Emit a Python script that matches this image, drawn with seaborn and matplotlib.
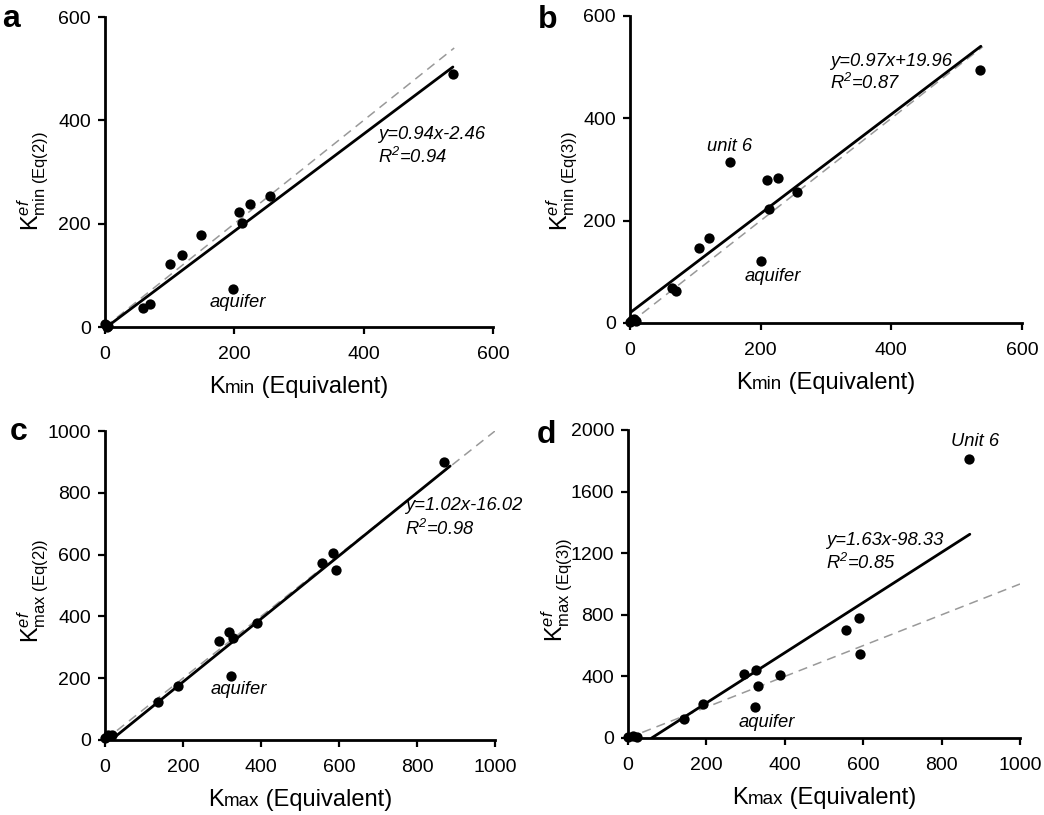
import numpy as np
import pandas as pd
import matplotlib
matplotlib.use("Agg")
import matplotlib.pyplot as plt
import seaborn as sns
from matplotlib.offsetbox import TextArea, HPacker, AnchoredOffsetbox

sns.set_style("ticks")
plt.rcParams['font.family'] = ['Liberation Sans', 'DejaVu Sans']
plt.rcParams['mathtext.fontset'] = 'custom'
plt.rcParams['mathtext.rm'] = 'Liberation Sans'
plt.rcParams['mathtext.it'] = 'Liberation Sans:italic'
plt.rcParams['mathtext.bf'] = 'Liberation Sans:bold'
plt.rcParams['text.color'] = 'black'
plt.rcParams['axes.labelcolor'] = 'black'

# ---------------- data ----------------
a_x = [0, 3, 5, 58, 70, 101, 119, 149, 198, 207, 212, 224, 255, 538]
a_y = [6, 0, 2, 36, 45, 121, 139, 178, 74, 223, 202, 239, 253, 490]

b_x = [0, 3, 6, 9, 64, 71, 106, 121, 153, 200, 209, 213, 226, 255, 535]
b_y = [2, 5, 8, 4, 68, 62, 146, 166, 314, 122, 280, 223, 283, 257, 495]

c_x = [0, 8, 17, 137, 188, 292, 319, 329, 323, 389, 556, 584, 592, 870]
c_y = [5, 16, 16, 122, 175, 320, 350, 331, 207, 380, 574, 606, 550, 900]

d_x = [0, 12, 22, 143, 191, 296, 326, 332, 323, 389, 557, 589, 591, 871]
d_y = [5, 12, 8, 123, 223, 417, 443, 339, 201, 406, 703, 778, 545, 1810]

slopes = [0.94, 0.97, 1.02, 1.63]
intercepts = [-2.46, 19.96, -16.02, -98.33]
r2 = [0.94, 0.87, 0.98, 0.85]
fit_xrange = [(2.6, 538), (0, 537), (15.7, 885), (60.3, 872)]
one_to_one_max = [540, 540, 1000, 1000]

x_ticks = [[0, 200, 400, 600], [0, 200, 400, 600],
           [0, 200, 400, 600, 800, 1000], [0, 200, 400, 600, 800, 1000]]
y_ticks = [[0, 200, 400, 600], [0, 200, 400, 600],
           [0, 200, 400, 600, 800, 1000], [0, 400, 800, 1200, 1600, 2000]]

panel_letters = ['a', 'b', 'c', 'd']
x_sub = ['min', 'min', 'max', 'max']
y_labels = [r'$\mathregular{K}^{\mathit{ef}}_{\mathregular{min\ (Eq(2))}}$',
            r'$\mathregular{K}^{\mathit{ef}}_{\mathregular{min\ (Eq(3))}}$',
            r'$\mathregular{K}^{\mathit{ef}}_{\mathregular{max\ (Eq(2))}}$',
            r'$\mathregular{K}^{\mathit{ef}}_{\mathregular{max\ (Eq(3))}}$']

eq_pos = [(422, 372, 330), (306, 511, 469), (769, 760, 684), (505, 1282, 1135)]
aquifer_pos = [(206, 48), (219, 91), (342, 162), (353, 102)]
unit6 = {1: ('unit 6', 153, 345), 3: ('Unit 6', 885, 1924)}

# ---------------- layout ----------------
W, H = 1044, 815
fig = plt.figure(figsize=(W / 100, H / 100), dpi=100)
boxes = [(105, 493, 17, 327), (630, 1022, 16, 323),
         (105, 495, 431, 740), (628, 1020, 430, 738)]
letter_pos = [(2, 27), (538, 28), (10, 440), (537, 443)]
ylabel_pos = [(33, 181), (562, 181), (33, 591), (557, 590)]

datasets = [(a_x, a_y), (b_x, b_y), (c_x, c_y), (d_x, d_y)]

for i, (bx0, bx1, by0, by1) in enumerate(boxes):
    ax = fig.add_axes([bx0 / W, 1 - by1 / H, (bx1 - bx0) / W, (by1 - by0) / H])
    xs, ys = datasets[i]
    df = pd.DataFrame({'x': xs, 'y': ys})

    # 1:1 dashed line
    d_line = pd.DataFrame({'x': [0, one_to_one_max[i]], 'y': [0, one_to_one_max[i]]})
    sns.lineplot(data=d_line, x='x', y='y', ax=ax, color='#999999', lw=1.1,
                 linestyle=(0, (6, 4)), zorder=2)
    # regression line
    fx = np.array(fit_xrange[i])
    f_line = pd.DataFrame({'x': fx, 'y': slopes[i] * fx + intercepts[i]})
    sns.lineplot(data=f_line, x='x', y='y', ax=ax, color='black', lw=2.0, zorder=3)
    # points
    sns.scatterplot(data=df, x='x', y='y', ax=ax, color='black', s=55,
                    edgecolor='black', linewidth=0, zorder=4, clip_on=False)

    ax.set_xlim(0, x_ticks[i][-1])
    ax.set_ylim(0, y_ticks[i][-1])
    ax.set_xticks(x_ticks[i])
    ax.set_yticks(y_ticks[i])
    ax.tick_params(axis='both', labelsize=14, width=1.6, length=5, direction='out',
                   color='black', labelcolor='black')
    ax.tick_params(axis='x', pad=9)
    ax.tick_params(axis='y', pad=5)
    for side in ['top', 'right']:
        ax.spines[side].set_visible(False)
    for side in ['left', 'bottom']:
        ax.spines[side].set_linewidth(2.0)
        ax.spines[side].set_color('black')
    ax.set_xlabel('')
    ax.set_ylabel('')

    # x label with small "min"/"max"
    parts = HPacker(children=[TextArea('K', textprops=dict(size=17, color='black')),
                              TextArea(x_sub[i], textprops=dict(size=13.5, color='black')),
                              TextArea(' (Equivalent)', textprops=dict(size=17, color='black'))],
                    align='baseline', pad=0, sep=0)
    h = by1 - by0
    anc = AnchoredOffsetbox(loc='center', child=parts, pad=0, borderpad=0, frameon=False,
                            bbox_to_anchor=(0.5, -60 / h), bbox_transform=ax.transAxes)
    ax.add_artist(anc)

    # y label
    lx, ly = ylabel_pos[i]
    fig.text(lx / W, 1 - ly / H, y_labels[i], rotation=90, ha='center', va='center',
             fontsize=17)

    # panel letter
    px, py = letter_pos[i]
    fig.text(px / W, 1 - py / H, panel_letters[i], fontsize=23, fontweight='bold',
             ha='left', va='baseline')

    # equation annotation
    ex, ey1, ey2 = eq_pos[i]
    sign = '+' if intercepts[i] >= 0 else '-'
    ax.text(ex, ey1, f'y={slopes[i]:.2f}x{sign}{abs(intercepts[i]):.2f}', fontsize=13.2,
            style='italic', ha='left', va='center', clip_on=False, zorder=5)
    ax.text(ex, ey2, r'R$^{\mathregular{2}}$' + f'={r2[i]:.2f}', fontsize=13.2,
            style='italic', ha='left', va='center', clip_on=False, zorder=5)

    aqx, aqy = aquifer_pos[i]
    ax.text(aqx, aqy, 'aquifer', fontsize=13.2, style='italic', ha='center', va='center')
    if i in unit6:
        t, ux, uy = unit6[i]
        ax.text(ux, uy, t, fontsize=13.2, style='italic', ha='center', va='center',
                clip_on=False)

fig.savefig('out.png', dpi=100)
